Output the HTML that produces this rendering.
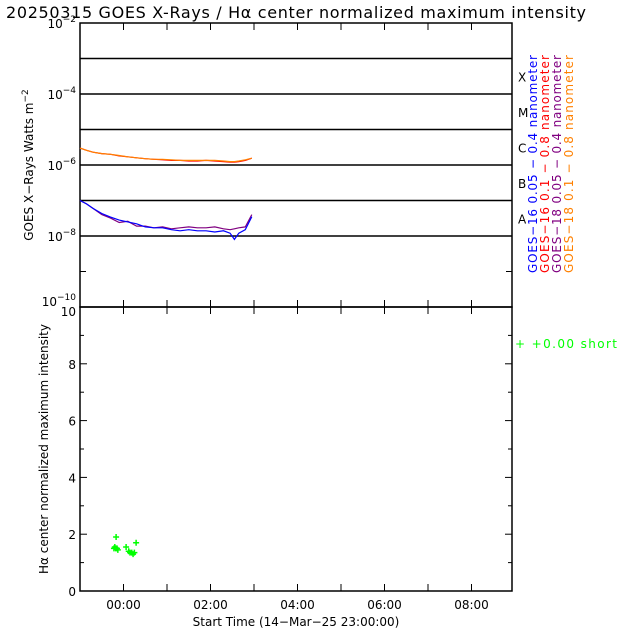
<!DOCTYPE html>
<html><head><meta charset="utf-8"><style>
body{margin:0;background:#fff}
svg{display:block;font-family:"DejaVu Sans","Liberation Sans",sans-serif}
</style></head><body>
<svg id="c" width="640" height="640" viewBox="0 0 640 640">
<text x="6" y="18" font-size="16" fill="#000" textLength="580">20250315 GOES X-Rays / Hα center normalized maximum intensity</text>
<g id="topPanel"></g>
<g id="botPanel"></g>
<text transform="translate(33,165) rotate(-90)" text-anchor="middle" font-size="12">GOES X−Rays Watts m<tspan dy="-5" font-size="9">−2</tspan></text>
<text transform="translate(48,449) rotate(-90)" text-anchor="middle" font-size="12">Hα center normalized maximum intensity</text>
<text x="296" y="626" text-anchor="middle" font-size="12">Start Time (14−Mar−25 23:00:00)</text>
<g font-size="12" style="white-space:pre">
<text transform="translate(537,273) rotate(-90)" textLength="218" fill="#0000ff">GOES−16 0.05 − 0.4 nanometer</text>
<text transform="translate(549,273) rotate(-90)" textLength="218" fill="#ff0000">GOES−16  0.1  − 0.8 nanometer</text>
<text transform="translate(561,273) rotate(-90)" textLength="218" fill="#800080">GOES−18 0.05 − 0.4 nanometer</text>
<text transform="translate(573,273) rotate(-90)" textLength="218" fill="#ff8000">GOES−18  0.1  − 0.8 nanometer</text>
<text x="515" y="348" fill="#00ff00" font-size="12" textLength="102">+  +0.00 short</text>
</g>
</svg>
<script>
const tickHours=[-1,0,1,2,3,4,5,6,7,8];
const labelHours=[0,2,4,6,8];
const labelText=["00:00","02:00","04:00","06:00","08:00"];
const decades=[-2,-3,-4,-5,-6,-7,-8,-9,-10];
const classLetters=["X","M","C","B","A"];
const classLevels=[-3.5,-4.5,-5.5,-6.5,-7.5];
const hTicks=[0,2,4,6,8,10];
const tTimes=[-1,-0.85,-0.7,-0.5,-0.3,-0.1,0.1,0.3,0.5,0.7,0.9,1.1,1.3,1.5,1.7,1.9,2.1,2.3,2.45,2.55,2.65,2.8,2.95];
const goes16Short=[1e-7,8e-8,6e-8,4.3e-8,3.4e-8,2.8e-8,2.5e-8,2.2e-8,1.8e-8,1.7e-8,1.7e-8,1.5e-8,1.4e-8,1.5e-8,1.4e-8,1.4e-8,1.3e-8,1.4e-8,1.2e-8,8e-9,1.2e-8,1.5e-8,3.5e-8];
const goes18Short=[1e-7,8e-8,6e-8,4e-8,3.2e-8,2.4e-8,2.6e-8,1.9e-8,1.9e-8,1.7e-8,1.8e-8,1.6e-8,1.7e-8,1.8e-8,1.7e-8,1.7e-8,1.8e-8,1.6e-8,1.5e-8,1.6e-8,1.7e-8,1.8e-8,4e-8];
const goes16Long=[3e-6,2.6e-6,2.3e-6,2.1e-6,2e-6,1.8e-6,1.7e-6,1.6e-6,1.5e-6,1.45e-6,1.4e-6,1.35e-6,1.35e-6,1.3e-6,1.3e-6,1.35e-6,1.3e-6,1.25e-6,1.2e-6,1.2e-6,1.25e-6,1.35e-6,1.55e-6];
const goes18Long=[3e-6,2.6e-6,2.3e-6,2.1e-6,2e-6,1.85e-6,1.7e-6,1.6e-6,1.5e-6,1.45e-6,1.45e-6,1.4e-6,1.35e-6,1.35e-6,1.35e-6,1.35e-6,1.35e-6,1.3e-6,1.25e-6,1.25e-6,1.3e-6,1.4e-6,1.55e-6];
const haTimes=[-0.17,-0.22,-0.2,-0.15,-0.13,-0.18,0.06,0.12,0.15,0.19,0.22,0.29,0.25];
const haValues=[1.9,1.5,1.55,1.5,1.45,1.5,1.55,1.4,1.35,1.35,1.3,1.7,1.35];

const NS="http://www.w3.org/2000/svg";
const X0=80,X1=512,H0=-1,PX=43.5;
const xs=h=>X0+(h-H0)*PX;
const TY0=23,TY1=307;
const yl=v=>TY0+(-2-Math.log10(v))*(TY1-TY0)/8;
const BY0=307,BY1=591;
const yb=v=>BY1-v*(BY1-BY0)/10;
function el(p,t,a){const e=document.createElementNS(NS,t);for(const k in a)e.setAttribute(k,a[k]);p.appendChild(e);return e;}
const topG=document.getElementById('topPanel'),botG=document.getElementById('botPanel');
let e;
e=el(topG,'rect',{x:X0,y:TY0,width:X1-X0,height:TY1-TY0,fill:'none',stroke:'#000','stroke-width':1.5});


e=el(botG,'rect',{x:X0,y:BY0,width:X1-X0,height:BY1-BY0,fill:'none',stroke:'#000','stroke-width':1.5});



decades.forEach(d=>{
  const y=yl(Math.pow(10,d));
  if(d<-2&&d>-9){e=el(topG,'line',{x1:X0,x2:X1,y1:y,y2:y,stroke:'#000','stroke-width':1.5});
    
    }
  e=el(topG,'line',{x1:X0,x2:X0+6,y1:y,y2:y,stroke:'#000'});
  
  
  e=el(topG,'line',{x1:X1-6,x2:X1,y1:y,y2:y,stroke:'#000'});
  
  
  if(d%2===0){
    const t=el(topG,'text',{x:X0-4,y:y+(d===-10?-1:5),'text-anchor':'end','font-size':12});
    t.innerHTML='10<tspan dy="-6" font-size="9">'+d.toString().replace('-','−')+'</tspan>';
    
    
  }
});
classLetters.forEach((c,i)=>{
  const t=el(topG,'text',{x:518,y:yl(Math.pow(10,classLevels[i]))+5,'font-size':12});
  t.textContent=c;
  
  
});
tickHours.forEach(h=>{
  [[TY0,TY0+7],[TY1-7,TY1],[BY0,BY0+7],[BY1-7,BY1]].forEach(p=>{
    e=el(topG,'line',{x1:xs(h),x2:xs(h),y1:p[0],y2:p[1],stroke:'#000'});
    
    
  });
});
labelHours.forEach((h,i)=>{
  const t=el(botG,'text',{x:xs(h),y:609,'text-anchor':'middle','font-size':12});
  t.textContent=labelText[i];
  
  
});
for(let v=0;v<=10;v++){
  e=el(botG,'line',{x1:X0,x2:X0+(v%2?4:7),y1:yb(v),y2:yb(v),stroke:'#000'});
  
  
  e=el(botG,'line',{x1:X1-(v%2?4:7),x2:X1,y1:yb(v),y2:yb(v),stroke:'#000'});
  
  
}
hTicks.forEach(v=>{
  const t=el(botG,'text',{x:X0-4,y:yb(v)+(v===10?9:5),'text-anchor':'end','font-size':12});
  t.textContent=v;
  
  
});
function series(vals,col,name){
  let d='';
  tTimes.forEach((t,i)=>{d+=(i?'L':'M')+xs(t).toFixed(1)+','+yl(vals[i]).toFixed(1);});
  const p=el(topG,'path',{d:d,fill:'none',stroke:col,'stroke-width':1.2});
  
  
}
series(goes16Long,'#ff0000','goes16-long-line');
series(goes18Long,'#ff8000','goes18-long-line');
series(goes18Short,'#800080','goes18-short-line');
series(goes16Short,'#0000ff','goes16-short-line');
haTimes.forEach((t,i)=>{
  const cx=xs(t),cy=yb(haValues[i]);
  const p=el(botG,'path',{d:`M${cx-3},${cy}H${cx+3}M${cx},${cy-3}V${cy+3}`,stroke:'#00ff00','stroke-width':1.5});
  
  
});
</script>
</body></html>
